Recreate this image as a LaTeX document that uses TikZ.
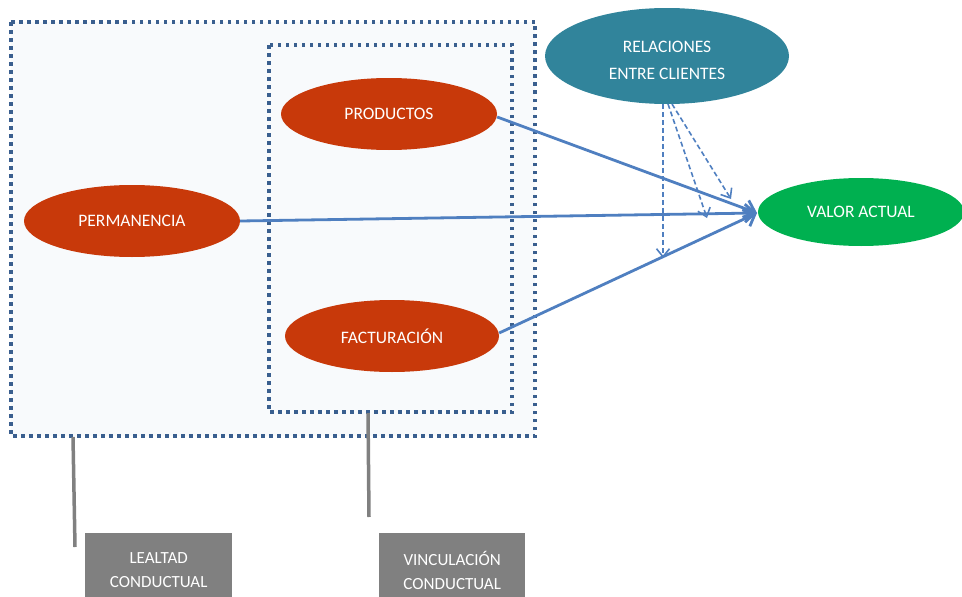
\documentclass[tikz,border=0pt]{standalone}
\usepackage{fontspec}
\setmainfont{Carlito}
\usetikzlibrary{shapes.geometric,arrows.meta}
\definecolor{redo}{HTML}{C8390A}
\definecolor{teal2}{HTML}{31849B}
\definecolor{green2}{HTML}{00B050}
\definecolor{arrowblue}{HTML}{4F7FC0}
\definecolor{dotblue}{HTML}{3A5F8F}
\definecolor{grayb}{HTML}{808080}
\definecolor{boxfill}{HTML}{F8FAFC}
\tikzset{
  x=1pt,y=-1pt,
  oval/.style={ellipse,minimum width=#1,inner sep=0pt,text=white,font=\fontsize{17.5}{27}\selectfont,align=center},
  dotbox/.style={draw=dotblue,line width=3.5pt,dash pattern=on 3.5pt off 4.5pt,fill=boxfill},
  solidarrow/.style={draw=arrowblue,line width=2.8pt,-{Straight Barb[length=10pt,width=18pt,line width=2.8pt]}},
  dasharrow/.style={draw=arrowblue,line width=1.6pt,dash pattern=on 5pt off 3pt,-{Straight Barb[length=8pt,width=13pt,line width=1.6pt]}},
  grayline/.style={draw=grayb,line width=3.5pt},
  graybox/.style={fill=grayb,text=white,font=\fontsize{17}{24}\selectfont,align=center,inner sep=0pt}
}
\begin{document}
\begin{tikzpicture}
\useasboundingbox (0,0) rectangle (962,597);
\draw[dotbox] (11,22) rectangle (535,436);
\draw[dotbox] (269,45) rectangle (512,412);
\node[oval=216pt,minimum height=72pt,fill=redo] (prod) at (389,114) {PRODUCTOS};
\node[oval=216pt,minimum height=72pt,fill=redo] (perm) at (132,221) {PERMANENCIA};
\node[oval=214pt,minimum height=72pt,fill=redo] (fact) at (392,336) {FACTURACIÓN};
\node[oval=244pt,minimum height=96pt,fill=teal2] (rel) at (667,56) {};
\node[text=white,font=\fontsize{17.5}{27}\selectfont,align=center] (reltext) at (667,60) {RELACIONES\\ENTRE CLIENTES};
\node[oval=206pt,minimum height=68pt,fill=green2] (val) at (861,212) {VALOR ACTUAL};
\coordinate (tip) at (757,213);
\draw[solidarrow] (prod.east) ++(0,3) -- (tip);
\draw[solidarrow] (perm.east) -- (tip);
\draw[solidarrow] (fact.east) ++(0,-3) -- (tip);
\coordinate (d1) at (663,258);
\coordinate (d2) at (707,218);
\coordinate (d3) at (731,199);
\draw[dasharrow] (663,104) -- (d1);
\draw[dasharrow] (668,104) -- (d2);
\draw[dasharrow] (672,104) -- (d3);
\node[graybox,minimum width=147pt,minimum height=74pt,anchor=north west] (leal) at (85,533) {LEALTAD\\CONDUCTUAL};
\node[graybox,minimum width=146pt,minimum height=74pt,anchor=north west] (vinc) at (379,533) {VINCULACIÓN\\CONDUCTUAL};
\coordinate (l1) at (73,437);
\coordinate (l2) at (75,547);
\coordinate (v1) at (368,413);
\coordinate (v2) at (369,517);
\draw[grayline] (l1) -- (l2);
\draw[grayline] (v1) -- (v2);
\end{tikzpicture}
\end{document}
